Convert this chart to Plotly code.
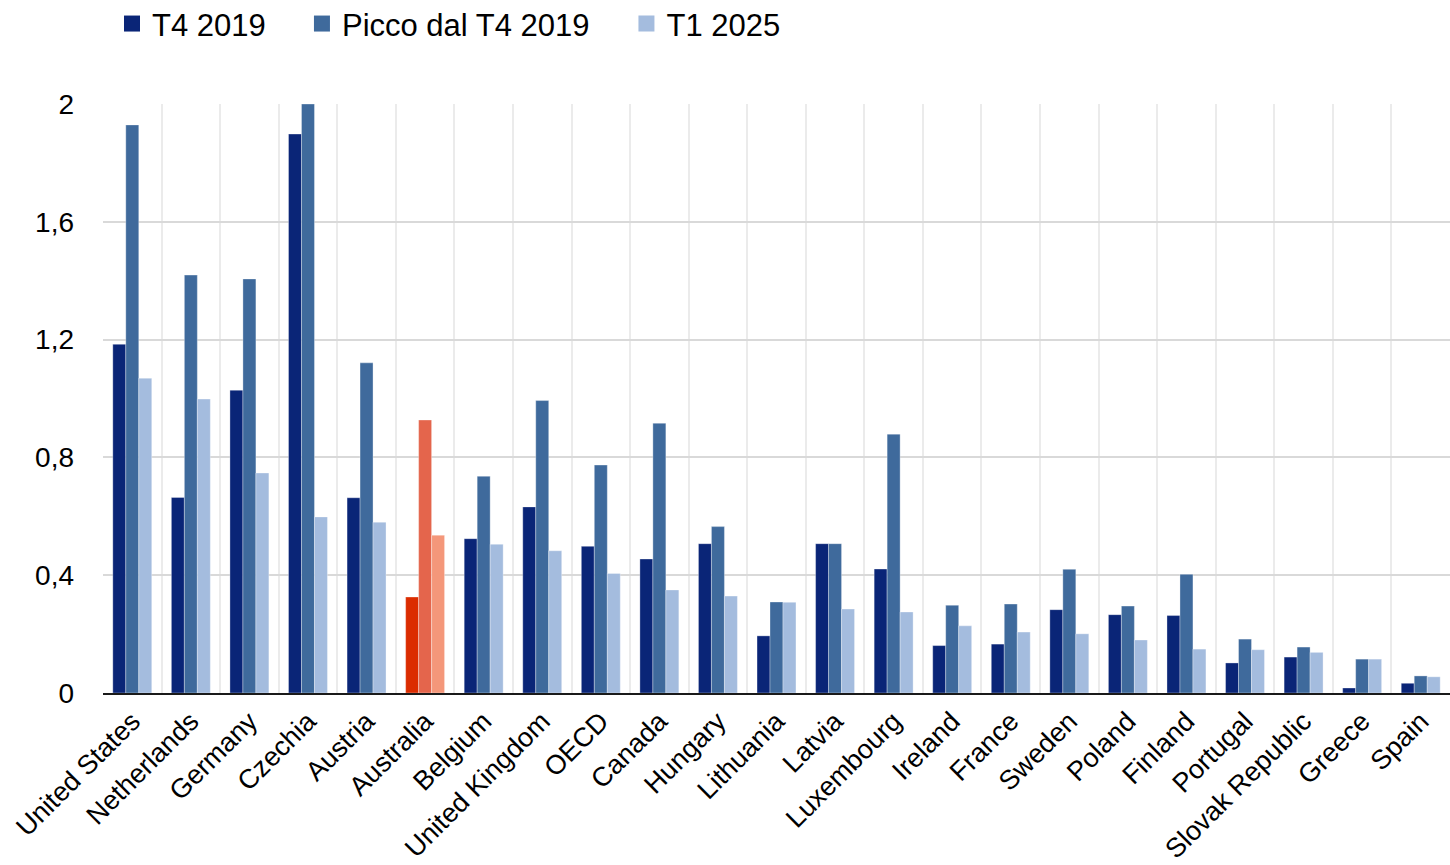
import plotly.graph_objects as go

countries = [
    "United States", "Netherlands", "Germany", "Czechia", "Austria", "Australia",
    "Belgium", "United Kingdom", "OECD", "Canada", "Hungary", "Lithuania", "Latvia",
    "Luxembourg", "Ireland", "France", "Sweden", "Poland", "Finland", "Portugal",
    "Slovak Republic", "Greece", "Spain",
]
t4_2019 = [1.184, 0.664, 1.028, 1.898, 0.663, 0.326, 0.524, 0.632, 0.498, 0.455,
           0.507, 0.194, 0.507, 0.421, 0.161, 0.166, 0.283, 0.266, 0.263, 0.102,
           0.122, 0.017, 0.033]
peak_since_t4_2019 = [1.929, 1.419, 1.406, 2.0, 1.121, 0.927, 0.736, 0.993, 0.774, 0.916,
                      0.565, 0.309, 0.507, 0.879, 0.298, 0.302, 0.420, 0.295, 0.403, 0.183,
                      0.156, 0.115, 0.058]
t1_2025 = [1.069, 0.998, 0.747, 0.598, 0.580, 0.536, 0.505, 0.483, 0.406, 0.350,
           0.329, 0.308, 0.285, 0.275, 0.228, 0.207, 0.201, 0.180, 0.149, 0.147,
           0.138, 0.115, 0.055]
series_names = ["T4 2019", "Picco dal T4 2019", "T1 2025"]
y_ticks = [0, 0.4, 0.8, 1.2, 1.6, 2]

base_colors = ["#0A2577", "#3F6A9C", "#A4BCDE"]
highlight_colors = ["#DB2C00", "#E4654C", "#F4977A"]
highlight = "Australia"

FONT = "Liberation Sans, Arial, sans-serif"

fig = go.Figure()
for i, (name, vals) in enumerate(zip(series_names, [t4_2019, peak_since_t4_2019, t1_2025])):
    colors = [highlight_colors[i] if c == highlight else base_colors[i] for c in countries]
    fig.add_trace(go.Bar(
        x=countries, y=vals, name=name,
        marker=dict(color=colors, line=dict(color="rgba(255,255,255,0.55)", width=0.6)),
        showlegend=False,
    ))

# legend entries, one legend per series so each can sit at its own spot
legend_x = [0.0067, 0.1477, 0.3886]
for i, name in enumerate(series_names):
    lname = "legend" if i == 0 else f"legend{i+1}"
    fig.add_trace(go.Scatter(
        x=[None], y=[None], mode="markers", name=name,
        marker=dict(symbol="square", size=18, color=base_colors[i]),
        legend=lname, showlegend=True,
    ))

legend_common = dict(
    orientation="h", yanchor="middle", y=1.136, xanchor="left",
    font=dict(family=FONT, size=31, color="#000000"),
    bgcolor="rgba(0,0,0,0)", borderwidth=0,
)
fig.update_layout(
    legend=dict(x=legend_x[0], **legend_common),
    legend2=dict(x=legend_x[1], **legend_common),
    legend3=dict(x=legend_x[2], **legend_common),
)

fig.update_layout(
    width=1450, height=865,
    margin=dict(l=103, r=0, t=104, b=172, autoexpand=False),
    plot_bgcolor="white", paper_bgcolor="white",
    barmode="group", bargap=0.335, bargroupgap=0,
    separators=",.",
    font=dict(family=FONT, size=28, color="#000000"),
)
fig.update_xaxes(
    type="category", tickangle=-45, tickson="boundaries", automargin=False,
    showgrid=True, gridcolor="#EBEBEB", gridwidth=1.5,
    showline=True, linecolor="#1A1A1A", linewidth=1.5,
    ticks="", tickfont=dict(family=FONT, size=27),
)
fig.update_yaxes(
    range=[0, 2], tickvals=y_ticks, tickformat=".1~f", automargin=False,
    showgrid=True, gridcolor="#D9D9D9", gridwidth=2,
    zeroline=False, showline=False, ticks="",
    ticklabelstandoff=28, tickfont=dict(family=FONT, size=28),
)

fig.write_html("out.html")
